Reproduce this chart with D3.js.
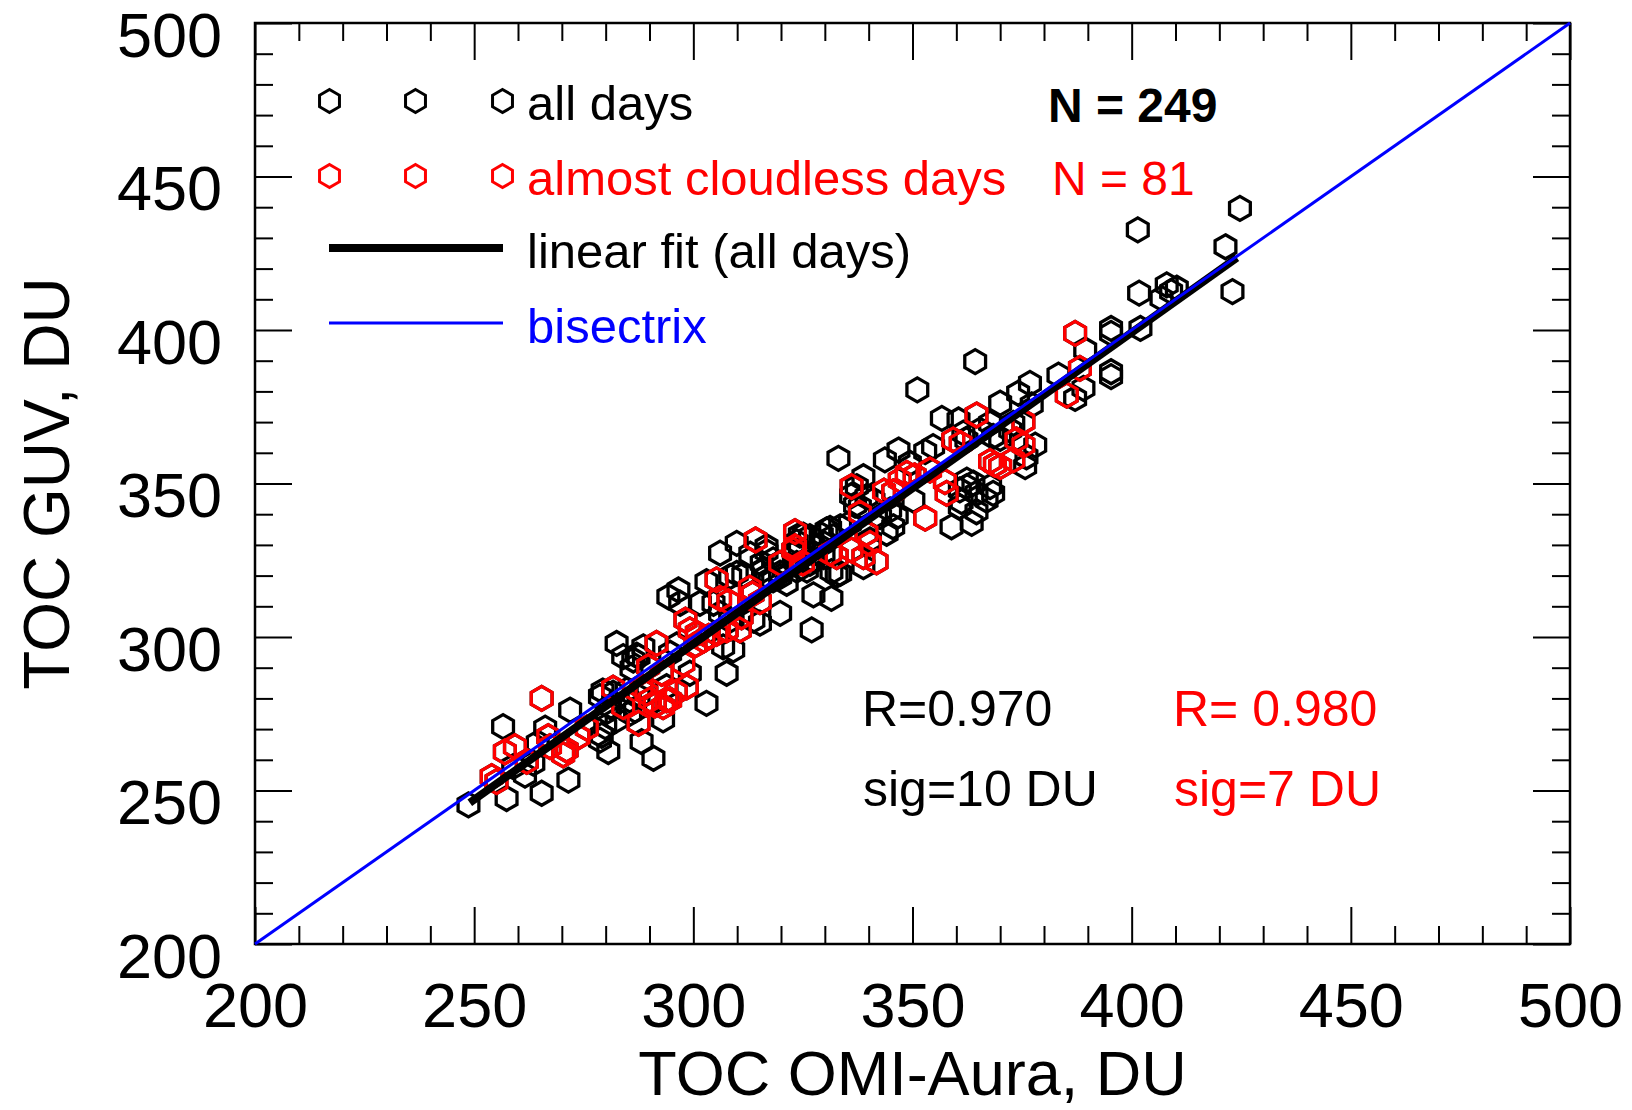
<!DOCTYPE html>
<html>
<head>
<meta charset="utf-8">
<script src="https://cdn.jsdelivr.net/npm/d3@7"></script>
<style>
  body { margin: 0; background: #fff; }
  text { font-family: "Liberation Sans", Arial, Helvetica, sans-serif; }
</style>
</head>
<body>
<div id="chart"></div>
<script>
// days that are not almost cloudless (drawn black only)
var otherDaysX = [248.7,257.4,265.4,271.5,261.6,258.9,263.5,256.6,266.2,271.9,279.1,279.9,278.7,280.6,281.7,282.5,288.2,290.9,293.1,303.0,
  287.1,288.6,264.5,280.2,286.7,285.5,282.5,279.3,287.5,287.5,294.3,296.6,297.0,303.0,308.4,311.4,306.1,309.9,316.7,324.3,
  330.4,326.6,332.7,327.4,331.5,319.8,327.0,306.8,309.1,307.6,301.5,304.6,315.2,313.7,296.2,294.7,315.6,316.7,323.6,325.9,
  329.7,331.9,306.1,308.4,309.9,318.2,331.5,286.3,284.8,299.2,293.9,333.1,356.7,360.5,370.0,343.7,346.8,349.4,354.7,361.6,
  338.8,337.3,341.1,336.9,350.2,358.9,363.5,373.0,368.4,368.4,366.9,331.2,329.3,325.1,323.6,338.8,333.5,316.7,364.3,351.1,
  376.8,374.1,377.2,365.4,367.7,370.0,372.3,362.3,352.9,375.7,362.4,362.4,361.2,364.6,378.0,376.0,364.6,401.4,424.7,421.4,
  423.0,401.7,408.0,410.3,406.8,409.0,395.3,395.3,402.0,389.4,395.3,395.3,383.3,387.1,389.0,338.0,339.5,342.6,344.9,346.4,
  345.6,344.1,340.3,335.7,363.9,360.8,367.7,360.8,318.2,315.9,317.4,319.8,321.3,326.6,324.3,327.4,329.7,333.5,323.6,319.8,
  327.4,278.7,281.0,285.6,284.0,285.9,313.0,336.0];
var otherDaysY = [245.3,247.4,249.1,253.4,255.0,257.8,258.9,270.8,270.3,276.2,268.0,270.8,266.4,262.7,281.7,297.9,265.9,260.5,273.0,278.4,
  294.1,296.8,265.5,275.7,276.2,279.5,273.0,282.4,280.6,293.6,313.1,315.3,311.0,318.0,319.7,320.2,327.3,330.5,327.8,333.2,
  334.9,324.0,320.2,313.7,312.6,307.7,302.3,296.8,295.8,288.2,311.0,311.0,304.5,305.5,297.4,294.7,324.0,319.7,324.0,321.8,
  330.5,332.7,307.7,305.5,320.7,318.6,321.3,292.5,282.7,288.2,283.8,358.2,371.2,370.7,376.2,357.7,360.9,356.6,362.0,366.4,
  352.2,349.0,344.6,343.0,344.6,335.9,337.0,369.6,365.3,346.8,344.6,335.4,333.2,333.2,331.0,322.9,320.7,329.4,389.7,380.5,
  382.6,379.4,375.6,367.4,369.6,364.7,367.4,364.2,360.4,355.5,351.1,349.0,344.1,340.8,362.5,358.7,346.8,432.6,439.6,427.1,
  412.5,412.0,414.7,413.6,410.3,412.5,400.5,398.9,400.5,393.5,386.4,384.8,385.3,377.7,381.0,342.4,345.7,339.2,341.4,339.2,
  335.9,333.8,331.6,337.0,350.1,347.9,349.0,342.4,325.1,321.8,318.6,320.8,317.5,332.7,328.3,325.1,326.2,335.9,321.8,319.7,
  327.3,280.6,277.3,275.2,293.6,289.8,327.0,346.0];

// almost cloudless days (drawn black, then red on top)
var cloudlessX = [255.1,254.0,257.0,259.3,265.4,266.9,267.3,271.1,270.3,273.8,275.7,281.7,284.0,287.5,291.2,293.9,298.5,291.6,297.7,
  289.7,292.8,288.2,289.3,290.1,294.7,293.1,298.2,299.2,300.8,302.3,305.3,307.6,311.0,310.6,305.3,312.9,306.1,308.0,315.2,
  314.2,322.8,319.8,332.7,336.1,345.6,348.7,347.1,354.0,357.4,357.8,359.3,364.6,352.9,339.5,336.1,338.8,341.8,323.2,325.0,
  331.2,367.7,370.0,373.0,373.7,375.3,375.3,323.2,338.0,340.3,387.1,388.2,385.2,262.0,300.5,303.5,313.5,343.5,350.5,361.0,
  368.8,296.0];
var cloudlessY = [252.9,254.5,262.6,264.3,280.0,267.5,264.3,263.2,261.6,267.5,270.3,283.3,277.3,271.9,277.8,279.5,283.8,297.9,291.4,
  290.3,288.2,283.8,281.7,279.5,279.5,277.3,305.5,302.3,301.2,299.0,301.2,302.3,306.6,302.3,318.6,315.9,312.6,311.5,311.5,
  331.6,328.3,324.0,326.2,349.0,347.3,353.3,351.1,354.4,350.6,346.8,364.2,372.3,338.7,333.8,328.3,326.2,324.5,329.4,324.1,
  327.3,357.2,355.5,357.7,364.2,370.1,362.5,334.3,340.3,330.5,398.9,387.5,378.8,259.5,297.5,300.2,314.0,347.5,352.5,363.0,
  356.2,282.0];

// linear fit (all days) end points
var fitX = [249, 424];
var fitY = [246, 423.5];

var majorTicks = [200, 250, 300, 350, 400, 450, 500];
var minorTicks = d3.range(200, 501, 10).filter(function(v) { return v % 50 !== 0; });

var width = 1632, height = 1110;
var plotLeft = 255, plotRight = 1570, plotTop = 23, plotBottom = 944;

var svg = d3.select('#chart').append('svg')
  .attr('width', width)
  .attr('height', height);

var x = d3.scaleLinear().domain([200, 500]).range([plotLeft, plotRight]);
var y = d3.scaleLinear().domain([200, 500]).range([plotBottom, plotTop]);

// hexagon, pointy top
function hexPath(r) {
  var pts = d3.range(6).map(function(i) {
    var a = Math.PI / 180 * (60 * i - 90);
    return [r * Math.cos(a), r * Math.sin(a)];
  });
  return 'M' + pts.join('L') + 'Z';
}

function drawAxis(axis, tx, ty, ticks, size, labels) {
  var g = svg.append('g')
    .attr('transform', 'translate(' + tx + ',' + ty + ')')
    .call(axis.tickValues(ticks).tickSize(size).tickSizeOuter(0)
      .tickFormat(labels ? d3.format('d') : ''));
  g.select('.domain').remove();
  g.selectAll('line').attr('stroke', '#000').attr('stroke-width', 2);
  return g;
}

// ticks, all pointing into the plot
var bx = drawAxis(d3.axisBottom(x), 0, plotBottom, majorTicks, -37, true);
bx.call(function(g) { g.selectAll('text').attr('font-size', 63).attr('fill', '#000').attr('y', 38); });
drawAxis(d3.axisBottom(x), 0, plotBottom, minorTicks, -18, false);
drawAxis(d3.axisTop(x), 0, plotTop, majorTicks, -37, false);
drawAxis(d3.axisTop(x), 0, plotTop, minorTicks, -18, false);

var ly = drawAxis(d3.axisLeft(y), plotLeft, 0, majorTicks, -37, true);
ly.call(function(g) {
  g.selectAll('text').attr('font-size', 63).attr('fill', '#000')
    .attr('x', -33).attr('dy', 33);
});
drawAxis(d3.axisLeft(y), plotLeft, 0, minorTicks, -18, false);
drawAxis(d3.axisRight(y), plotRight, 0, majorTicks, -37, false);
drawAxis(d3.axisRight(y), plotRight, 0, minorTicks, -18, false);

// frame
svg.append('rect')
  .attr('x', plotLeft).attr('y', plotTop)
  .attr('width', plotRight - plotLeft).attr('height', plotBottom - plotTop)
  .attr('fill', 'none').attr('stroke', '#000').attr('stroke-width', 2.5);

// points
var hex = hexPath(12);
var allX = otherDaysX.concat(cloudlessX), allY = otherDaysY.concat(cloudlessY);

svg.append('g').selectAll('path')
  .data(allX).enter().append('path')
  .attr('d', hex)
  .attr('transform', function(d, i) { return 'translate(' + x(d) + ',' + y(allY[i]) + ')'; })
  .attr('fill', 'none').attr('stroke', '#000').attr('stroke-width', 3.3);

svg.append('g').selectAll('path')
  .data(cloudlessX).enter().append('path')
  .attr('d', hex)
  .attr('transform', function(d, i) { return 'translate(' + x(d) + ',' + y(cloudlessY[i]) + ')'; })
  .attr('fill', 'none').attr('stroke', '#ff0000').attr('stroke-width', 3.3);

// linear fit
svg.append('line')
  .attr('x1', x(fitX[0])).attr('y1', y(fitY[0]))
  .attr('x2', x(fitX[1])).attr('y2', y(fitY[1]))
  .attr('stroke', '#000').attr('stroke-width', 8);

// bisectrix
svg.append('line')
  .attr('x1', x(200)).attr('y1', y(200))
  .attr('x2', x(500)).attr('y2', y(500))
  .attr('stroke', '#0000ff').attr('stroke-width', 3);

// legend
var legendHexX = [329.5, 415.5, 502.5];
var legendHex = hexPath(11.5);
legendHexX.forEach(function(lx) {
  svg.append('path').attr('d', legendHex).attr('transform', 'translate(' + lx + ',101)')
    .attr('fill', 'none').attr('stroke', '#000').attr('stroke-width', 3);
  svg.append('path').attr('d', legendHex).attr('transform', 'translate(' + lx + ',176)')
    .attr('fill', 'none').attr('stroke', '#ff0000').attr('stroke-width', 3);
});
svg.append('line').attr('x1', 329).attr('x2', 503).attr('y1', 248).attr('y2', 248)
  .attr('stroke', '#000').attr('stroke-width', 8);
svg.append('line').attr('x1', 329).attr('x2', 503).attr('y1', 323).attr('y2', 323)
  .attr('stroke', '#0000ff').attr('stroke-width', 3);

function label(txt, lx, lyy, color, size, weight) {
  svg.append('text')
    .attr('x', lx).attr('y', lyy)
    .attr('fill', color)
    .attr('font-size', size)
    .attr('font-weight', weight || 'normal')
    .text(txt);
}

label('all days', 527, 120, '#000', 49);
label('almost cloudless days', 527, 195, '#ff0000', 49);
label('linear fit (all days)', 527, 268, '#000', 49);
label('bisectrix', 527, 343, '#0000ff', 49);
label('N = 249', 1048, 122, '#000', 48, 'bold');
label('N = 81', 1052, 195, '#ff0000', 48);

label('R=0.970', 862, 726, '#000', 50);
label('R= 0.980', 1173, 726, '#ff0000', 50);
label('sig=10 DU', 863, 806, '#000', 50);
label('sig=7 DU', 1174, 806, '#ff0000', 50);

// axis titles
svg.append('text')
  .attr('x', (plotLeft + plotRight) / 2).attr('y', 1095)
  .attr('text-anchor', 'middle')
  .attr('font-size', 63)
  .text('TOC OMI-Aura, DU');

svg.append('text')
  .attr('transform', 'translate(69,' + ((plotTop + plotBottom) / 2) + ') rotate(-90)')
  .attr('text-anchor', 'middle')
  .attr('font-size', 64)
  .text('TOC GUV, DU');
</script>
</body>
</html>
